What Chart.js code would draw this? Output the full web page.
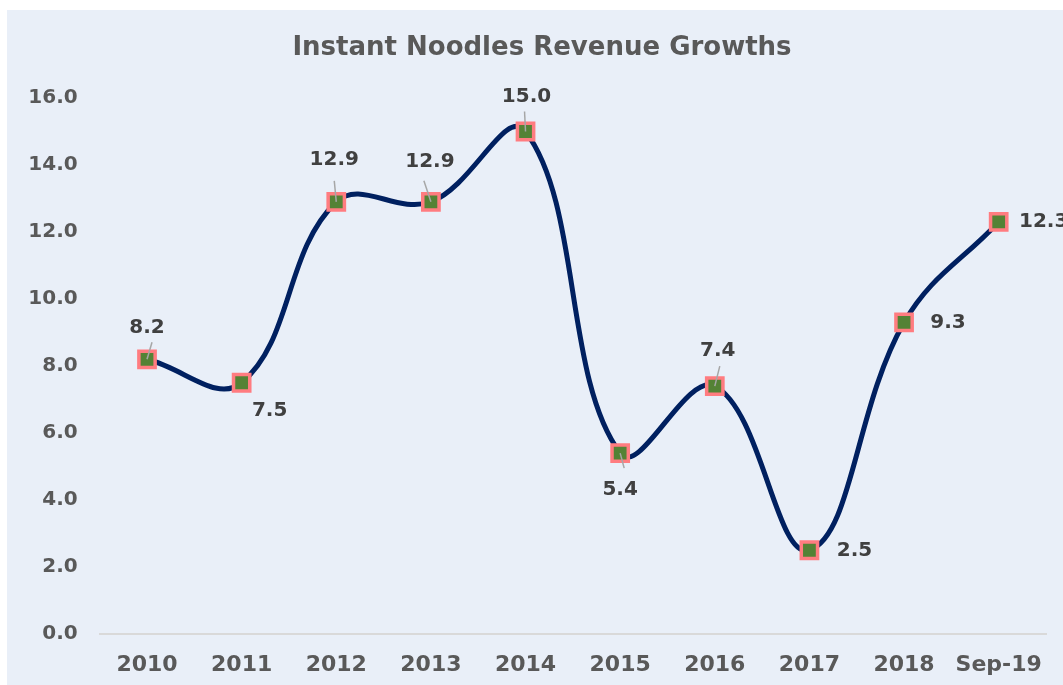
<!DOCTYPE html>
<html>
<head>
<meta charset="utf-8">
<title>Instant Noodles Revenue Growths</title>
<script src="https://cdn.jsdelivr.net/npm/chart.js@4.4.0/dist/chart.umd.min.js"></script>
<style>
  html, body { margin: 0; padding: 0; background: #fff; }
  .chart-box {
    position: absolute; left: 7px; top: 10px;
    width: 1056px; height: 675px;
    background: #E9EFF8;
  }
</style>
</head>
<body>
<div class="chart-box"><canvas id="growthChart"></canvas></div>
<script>
const years = ['2010', '2011', '2012', '2013', '2014', '2015', '2016', '2017', '2018', 'Sep-19'];
const growth = [8.2, 7.5, 12.9, 12.9, 15.0, 5.4, 7.4, 2.5, 9.3, 12.3];
const yTicks = [0, 2, 4, 6, 8, 10, 12, 14, 16];

// label centre offset from its marker, and optional leader-line tip
const labelOffsets = [[0, -32], [28, 28], [-2, -42], [-1, -40], [1, -35], [0, 37], [3, -35], [45, 1], [44, 0], [45, 0]];
const leaderTips = [[5, -17], null, [-2, -21], [-7, -21], [-1, -20], [4, 15], [5, -20], null, null, null];

const FONT = '"DejaVu Sans", Verdana, sans-serif';

const titleAndLabels = {
  id: 'titleAndLabels',
  afterDatasetsDraw(chart) {
    const ctx = chart.ctx;
    const meta = chart.getDatasetMeta(0);
    ctx.save();
    // leader lines
    ctx.strokeStyle = '#A6A6A6';
    ctx.lineWidth = 1.5;
    meta.data.forEach((pt, i) => {
      const tip = leaderTips[i];
      if (!tip) return;
      ctx.beginPath();
      ctx.moveTo(pt.x, pt.y);
      ctx.lineTo(pt.x + tip[0], pt.y + tip[1]);
      ctx.stroke();
    });
    // value labels
    ctx.fillStyle = '#404040';
    ctx.font = 'bold 20px ' + FONT;
    ctx.textAlign = 'center';
    ctx.textBaseline = 'middle';
    meta.data.forEach((pt, i) => {
      const off = labelOffsets[i];
      ctx.fillText(growth[i].toFixed(1), pt.x + off[0], pt.y + off[1]);
    });
    // title
    ctx.fillStyle = '#595959';
    ctx.font = 'bold 26px ' + FONT;
    ctx.fillText('Instant Noodles Revenue Growths', 535, 38);
    ctx.restore();
  }
};

new Chart(document.getElementById('growthChart'), {
  type: 'line',
  data: {
    labels: years,
    datasets: [{
      data: growth,
      borderColor: '#002060',
      borderWidth: 5,
      tension: 0.4,
      fill: false,
      pointStyle: 'rect',
      pointRadius: 11.5,
      pointHoverRadius: 11.5,
      pointBorderWidth: 3.5,
      pointBorderColor: '#FF7C80',
      pointBackgroundColor: '#548235'
    }]
  },
  options: {
    responsive: true, maintainAspectRatio: false,
    animation: false,
    layout: { padding: { top: 88, left: 0, right: 17, bottom: 0 } },
    plugins: { legend: { display: false }, title: { display: false }, tooltip: { enabled: false } },
    scales: {
      y: {
        min: 0, max: 16,
        afterBuildTicks: s => { s.ticks = yTicks.map(v => ({ value: v })); },
        afterFit: s => { s.width = 92.7; },
        grid: { display: false, drawTicks: false },
        border: { display: false },
        ticks: {
          padding: 22,
          color: '#595959',
          font: { family: FONT, size: 20, weight: 'bold' },
          callback: v => Number(v).toFixed(1)
        }
      },
      x: {
        offset: true,
        afterFit: s => { s.height = 51; },
        grid: { display: false, drawTicks: false, offset: true },
        border: { display: true, color: '#D9D9D9', width: 2 },
        ticks: {
          padding: 18,
          maxRotation: 0,
          color: '#595959',
          font: { family: FONT, size: 22, weight: 'bold' }
        }
      }
    }
  },
  plugins: [titleAndLabels]
});
</script>
</body>
</html>
